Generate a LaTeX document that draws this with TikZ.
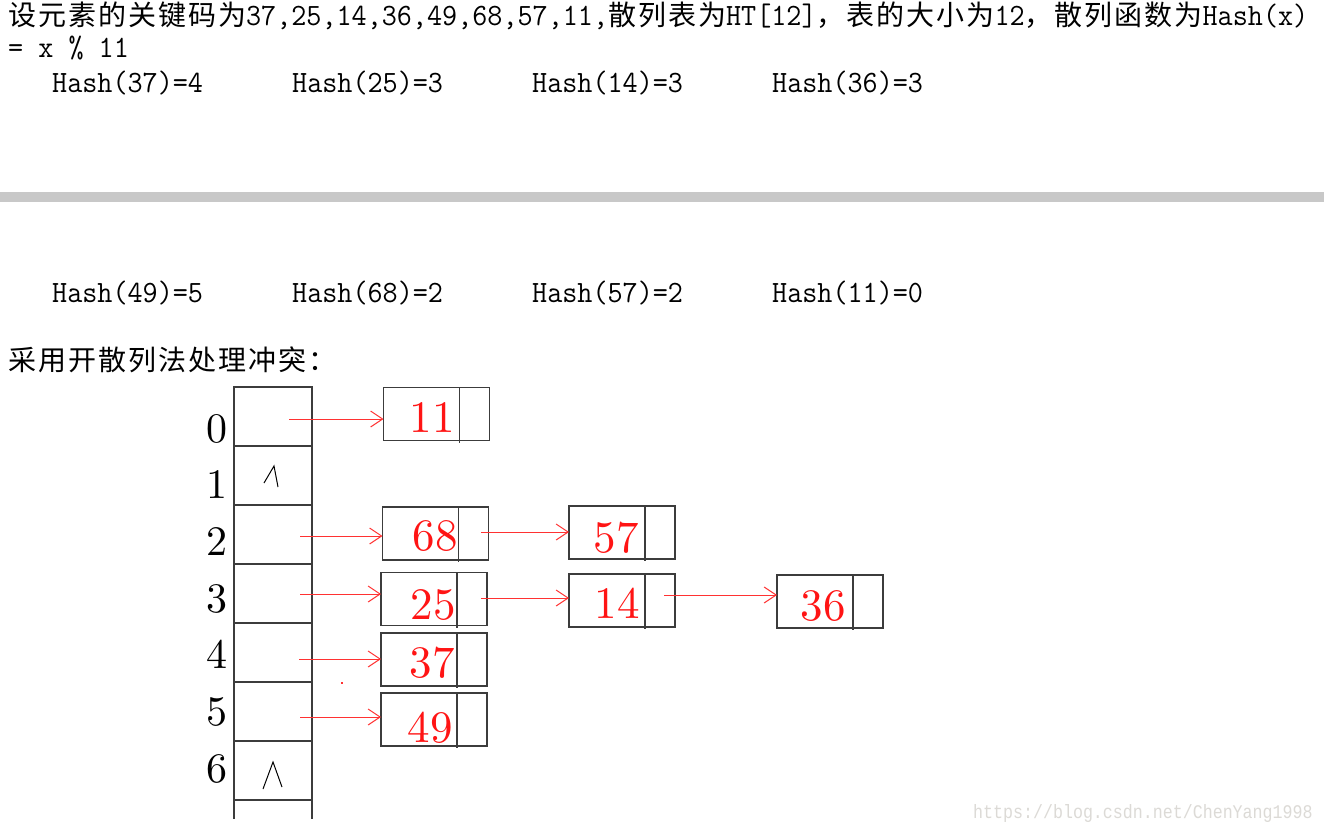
\documentclass[tikz,border=0pt]{standalone}
\usepackage{fontspec}
\usetikzlibrary{arrows.meta}
\newfontfamily\cjk[LetterSpace=7.1]{Noto Sans CJK SC}
\newfontfamily\monofam[FakeStretch=0.945]{Latin Modern Mono}
\newfontfamily\wmfam[FakeStretch=0.862]{Liberation Mono}
\newfontfamily\lmten[Extension=.otf]{lmroman10-regular}
\newcommand\zh[1]{{\cjk\fontsize{28}{28}\selectfont #1}}
\definecolor{boxgray}{RGB}{60,60,60}
\definecolor{arrred}{RGB}{255,50,50}
\definecolor{numred}{RGB}{255,20,20}
\definecolor{bargray}{RGB}{200,200,200}
\definecolor{wmgray}{RGB}{220,218,214}
\begin{document}
\begin{tikzpicture}[x=1pt,y=-1pt,
  txt/.style={anchor=base west, inner sep=0pt, font=\monofam\fontsize{31}{31}\selectfont},
  idx/.style={anchor=base, inner sep=0pt, font=\lmten\fontsize{42}{42}\selectfont},
  num/.style={anchor=base, inner sep=0pt, text=numred, font=\lmten\fontsize{45}{45}\selectfont},
  cell/.style={draw=boxgray, line width=1.2pt, minimum width=78pt, minimum height=59pt, inner sep=0pt, outer sep=0pt},
  lbox/.style={draw=boxgray, line width=1.2pt, minimum width=106pt, minimum height=53pt, inner sep=0pt, outer sep=0pt},
  divline/.style={draw=boxgray, line width=1.2pt},
  nullmark/.style={draw=black, line width=1pt},
  ptr/.style={draw=arrred, line width=1pt, -{Straight Barb[length=12pt,width=16pt]}}
]
\useasboundingbox (0,0) rectangle (1324,832);
\fill[white] (0,0) rectangle (1324,832);

% header texts
\node[txt] (t1) at (8,26) {\zh{设元素的关键码为}37,25,14,36,49,68,57,11,\zh{散列表为}HT[12]\zh{，表的大小为}12\zh{，散列函数为}Hash(x)};
\node[txt] (t2) at (8,58) {= x \% 11};
\node[txt] (h37) at (52,93) {Hash(37)=4};
\node[txt] (h25) at (292,93) {Hash(25)=3};
\node[txt] (h14) at (532,93) {Hash(14)=3};
\node[txt] (h36) at (772,93) {Hash(36)=3};

% separator bar
\fill[bargray] (0,192) rectangle (1324,202);

\node[txt] (h49) at (52,302) {Hash(49)=5};
\node[txt] (h68) at (292,302) {Hash(68)=2};
\node[txt] (h57) at (532,302) {Hash(57)=2};
\node[txt] (h11) at (772,302) {Hash(11)=0};
\node[txt] (t3) at (8,370) {\zh{采用开散列法处理冲突：}};

% hash table cells
\foreach \i in {0,...,6} {
  \node[cell] (c\i) at (273,{416.5+59*\i}) {};
}
\draw[divline] (c6.south west) -- ++(0,19);
\draw[divline] (c6.south east) -- ++(0,19);

% index labels
\node[idx] (i0) at (217,442) {0};
\node[idx] (i1) at (217,498) {1};
\node[idx] (i2) at (217,555) {2};
\node[idx] (i3) at (217,612) {3};
\node[idx] (i4) at (217,668) {4};
\node[idx] (i5) at (217,725) {5};
\node[idx] (i6) at (217,782) {6};

% null marks
\draw[nullmark] (264,483) -- (274,466) -- (278,487);
\draw[nullmark] (263,789) -- (273,762) -- (282,787);

% list nodes
\node[lbox] (b11) at (436.5,414) {};
\node[lbox] (b68) at (435.5,533.5) {};
\node[lbox] (b25) at (434,599) {};
\node[lbox] (b37) at (434,659.5) {};
\node[lbox] (b49) at (434,719.5) {};
\node[lbox] (b57) at (622,532.5) {};
\node[lbox] (b14) at (622,600.5) {};
\node[lbox] (b36) at (830,601.5) {};
\foreach \b in {b11,b68,b25,b37,b49,b57,b14,b36} {
  \draw[divline] ([xshift=76pt]\b.north west) -- ([xshift=76pt,yshift=-2pt]\b.south west);
}

% numbers
\node[num] (n11) at (432,432) {11};
\node[num] (n68) at (435,550) {68};
\node[num] (n25) at (433,619) {25};
\node[num] (n37) at (432,677) {37};
\node[num] (n49) at (430,742) {49};
\node[num] (n57) at (616,552) {57};
\node[num] (n14) at (617,618) {14};
\node[num] (n36) at (823,620) {36};

% pointer start points
\coordinate (p0) at (289,419);
\coordinate (p2) at (300,536);
\coordinate (p3) at (300,594);
\coordinate (p4) at (299,659);
\coordinate (p5) at (300,717);
\coordinate (q68) at (481,532);
\coordinate (q25) at (481,598);
\coordinate (q14) at (664,595);

\draw[ptr] (p0) -- (b11.west |- p0);
\draw[ptr] (p2) -- (b68.west |- p2);
\draw[ptr] (p3) -- (b25.west |- p3);
\draw[ptr] (p4) -- (b37.west |- p4);
\draw[ptr] (p5) -- (b49.west |- p5);
\draw[ptr] (q68) -- (b57.west |- q68);
\draw[ptr] (q25) -- (b14.west |- q25);
\draw[ptr] (q14) -- (b36.west |- q14);

% stray dot
\fill[arrred] (341,682) rectangle (343,684);

% watermark
\node[anchor=base west, inner sep=0pt, text=wmgray, font=\wmfam\fontsize{19.3}{19.3}\selectfont] (wm) at (973,818) {https://blog.csdn.net/ChenYang1998};
\end{tikzpicture}
\end{document}
